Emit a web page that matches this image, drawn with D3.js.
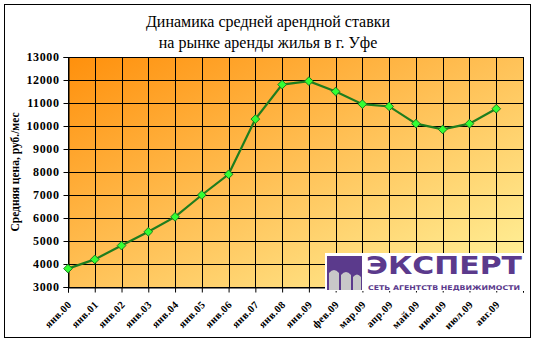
<!DOCTYPE html>
<html><head><meta charset="utf-8">
<script src="https://cdn.jsdelivr.net/npm/d3@7"></script>
<style>body{margin:0;background:#fff}svg{display:block}</style>
</head><body>
<script>
const categories = ["янв.00","янв.01","янв.02","янв.03","янв.04","янв.05","янв.06","янв.07","янв.08","янв.09","фев.09","мар.09","апр.09","май.09","июн.09","июл.09","авг.09"];
const values = [3800,4200,4800,5400,6050,7000,7900,10300,11800,11950,11500,10950,10850,10100,9850,10100,10750];
const yTicks = [3000,4000,5000,6000,7000,8000,9000,10000,11000,12000,13000];
const titleLines = ["Динамика средней арендной ставки","на рынке аренды жилья в г. Уфе"];
const yTitle = "Средняя цена, руб./мес";

const W=536,H=342;
const svg=d3.select("body").append("svg").attr("width",W).attr("height",H);
svg.append("rect").attr("x",4.5).attr("y",4.5).attr("width",526).attr("height",333).attr("fill","#fff").attr("stroke","#000").attr("stroke-width",1);

const L=68,R=523,T=57,B=287;
const x=d3.scaleLinear().domain([0,categories.length]).range([L,R]);
const y=d3.scaleLinear().domain([3000,13000]).range([B,T]);

const defs=svg.append("defs");
const g=defs.append("linearGradient").attr("id","bg").attr("x1","0").attr("y1","0").attr("x2","1").attr("y2","1");
g.append("stop").attr("offset","0").attr("stop-color","#FF900C");
g.append("stop").attr("offset","0.5").attr("stop-color","#FFC258");
g.append("stop").attr("offset","1").attr("stop-color","#FFF59E");
svg.append("rect").attr("x",L).attr("y",T).attr("width",R-L).attr("height",B-T).attr("fill","url(#bg)");

// grid
svg.append("g").selectAll("line").data(yTicks).join("line")
  .attr("x1",L).attr("x2",R).attr("y1",d=>Math.round(y(d))+0.5).attr("y2",d=>Math.round(y(d))+0.5)
  .attr("stroke","#000").attr("stroke-width",1);
svg.append("g").selectAll("line").data(d3.range(categories.length+1)).join("line")
  .attr("x1",d=>Math.round(x(d))+0.5).attr("x2",d=>Math.round(x(d))+0.5).attr("y1",T).attr("y2",B)
  .attr("stroke","#000").attr("stroke-width",1);

// y axis
const ya=svg.append("g").attr("transform",`translate(${L+0.5},0)`)
  .call(d3.axisLeft(y).tickValues(yTicks).tickSize(5).tickPadding(4).tickFormat(d3.format("d")));
ya.select(".domain").attr("stroke","#000");
ya.selectAll("text").attr("font-family","Liberation Serif").attr("font-weight","bold").attr("font-size",12).attr("letter-spacing",0.6).attr("fill","#000");

// x axis
const xa=svg.append("g").attr("transform",`translate(0,${B+0.5})`)
  .call(d3.axisBottom(x).tickValues(d3.range(categories.length+1)).tickSize(5).tickFormat(""));
xa.select(".domain").attr("stroke","#000");
svg.append("g").selectAll("text").data(categories).join("text")
  .attr("transform",(d,i)=>`translate(${x(i)-1},${B+13}) rotate(-45)`)
  .attr("text-anchor","end").attr("dy","0.7em")
  .attr("font-family","Liberation Serif").attr("font-weight","bold").attr("font-size",10.5).attr("letter-spacing",0.4).text(d=>d);

// line
svg.append("path").datum(values)
  .attr("d",d3.line().x((d,i)=>x(i)).y(d=>y(d)))
  .attr("fill","none").attr("stroke","#1E7D1E").attr("stroke-width",2.2);
svg.append("g").selectAll("path").data(values).join("path")
  .attr("transform",(d,i)=>`translate(${x(i)},${y(d)})`)
  .attr("d",d3.symbol(d3.symbolDiamond2,48))
  .attr("fill","#33FF33").attr("stroke","#1E7D1E").attr("stroke-width",1);

// title
svg.append("g").selectAll("text").data(titleLines).join("text")
  .attr("x",268).attr("y",(d,i)=>27+i*21).attr("text-anchor","middle")
  .attr("font-family","Liberation Serif").attr("font-size",16).text(d=>d);

// y title
svg.append("text").attr("transform",`translate(19,172) rotate(-90)`).attr("text-anchor","middle")
  .attr("font-family","Liberation Serif").attr("font-weight","bold").attr("font-size",11.5).text(yTitle);

// logo
const lg=svg.append("g");
lg.append("rect").attr("x",325).attr("y",253).attr("width",200).attr("height",38).attr("fill","#fff");
lg.append("path").attr("d","M327,256 L362,256 L362,290 L327,290 Z").attr("fill","#5B3A8C");
lg.append("path").attr("d","M329,290 L329,273 Q334,267 339,273 L339,290 Z M341,290 L341,275 Q346,269 351,275 L351,290 Z M353,290 L353,277 Q357,272 361,277 L361,290 Z").attr("fill","#C8C8C8");
lg.append("text").attr("x",366).attr("y",274).attr("font-family","DejaVu Sans").attr("font-weight","bold").attr("font-size",25)
  .attr("fill","#5B3A8C").attr("textLength",156).attr("lengthAdjust","spacingAndGlyphs").text("ЭКСПЕРТ");
lg.append("text").attr("x",368).attr("y",289.5).attr("font-family","DejaVu Sans").attr("font-weight","bold").attr("font-size",6.5)
  .attr("fill","#5B3A8C").attr("textLength",152).attr("lengthAdjust","spacingAndGlyphs").text("СЕТЬ АГЕНТСТВ НЕДВИЖИМОСТИ");
</script>
</body></html>
